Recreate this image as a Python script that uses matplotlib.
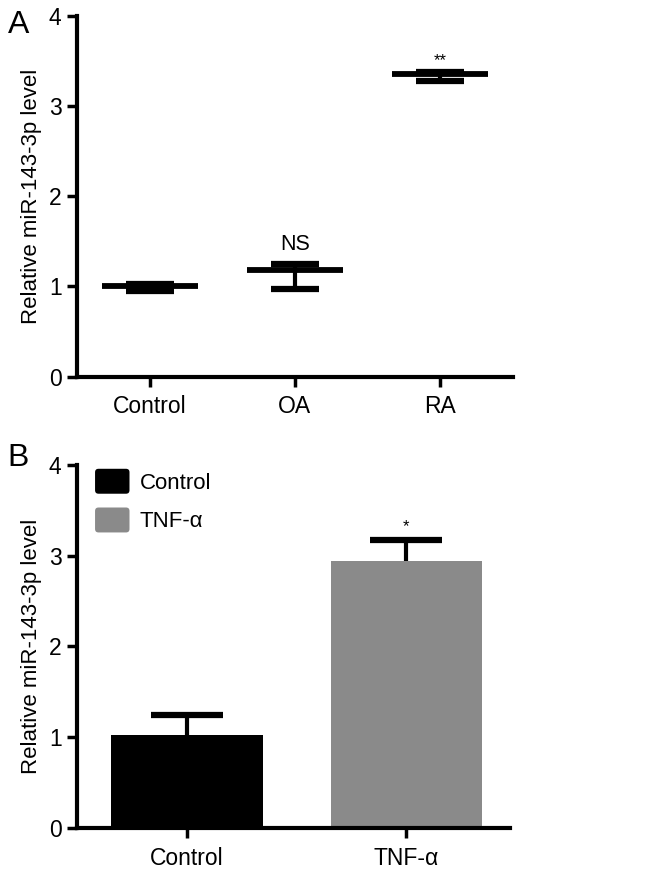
import matplotlib
matplotlib.use('Agg')
import numpy as np
import matplotlib.pyplot as plt
from matplotlib.patches import FancyBboxPatch
from matplotlib.legend_handler import HandlerPatch

plt.rcParams['font.family'] = ['Liberation Sans', 'DejaVu Sans']

# panel A: mean with min/max error
groups_a = ['Control', 'OA', 'RA']
mean_a = [1.00, 1.18, 3.35]
upper_a = [1.03, 1.25, 3.38]
lower_a = [0.95, 0.97, 3.28]
sig_a = ['', 'NS', '**']

# panel B: bar with upward error
groups_b = ['Control', 'TNF-α']
mean_b = [1.02, 2.94]
err_b = [0.22, 0.24]
colors_b = ['black', '#8a8a8a']
sig_b = ['', '*']


class RoundHandler(HandlerPatch):
    def create_artists(self, legend, orig_handle, xdescent, ydescent,
                       width, height, fontsize, trans):
        p = FancyBboxPatch((-xdescent + 1.5, -ydescent + 1.5), width - 3, height - 3,
                           boxstyle='round,pad=1.5,rounding_size=2.5',
                           facecolor=orig_handle.get_facecolor(), edgecolor='none',
                           transform=trans)
        return [p]


fig = plt.figure(figsize=(6.46, 8.76), dpi=100)
axA = fig.add_axes([0.119, 0.570, 0.675, 0.412])
axB = fig.add_axes([0.119, 0.055, 0.670, 0.414])

lw = 3.0
for ax in (axA, axB):
    ax.spines['top'].set_visible(False)
    ax.spines['right'].set_visible(False)
    ax.spines['left'].set_linewidth(lw)
    ax.spines['bottom'].set_linewidth(lw)
    ax.tick_params(axis='both', direction='out', length=7.5, width=2.5, labelsize=16.5)
    ax.tick_params(axis='x', pad=6)
    ax.set_ylim(0, 4)
    ax.set_yticks([0, 1, 2, 3, 4])
    ax.set_ylabel('Relative miR-143-3p level', fontsize=16, labelpad=5)

# A
xa = np.arange(len(groups_a))
axA.hlines(mean_a, xa - 0.33, xa + 0.33, colors='black', linewidth=4.2)
yerr = [np.array(mean_a) - np.array(lower_a), np.array(upper_a) - np.array(mean_a)]
axA.errorbar(xa, mean_a, yerr=yerr, fmt='none', ecolor='black', elinewidth=3,
             capsize=17.5, capthick=4.5)
for x, m, u, s in zip(xa, mean_a, upper_a, sig_a):
    if s == 'NS':
        axA.text(x, u + 0.1, s, ha='center', va='bottom', fontsize=15.5)
    elif s:
        axA.text(x, u + 0.04, s, ha='center', va='bottom', fontsize=12)
axA.set_xlim(-0.5, 2.5)
axA.set_xticks(xa)
axA.set_xticklabels(groups_a)

# B: symmetric error drawn under the bar so only the upper half shows
xb = np.arange(len(groups_b))
axB.errorbar(xb, mean_b, yerr=err_b, fmt='none', ecolor='black',
             elinewidth=3, capsize=26, capthick=4.5, zorder=1)
bars = axB.bar(xb, mean_b, width=0.69, color=colors_b, zorder=2)
for x, m, e, s in zip(xb, mean_b, err_b, sig_b):
    if s:
        axB.text(x, m + e + 0.06, s, ha='center', va='bottom', fontsize=12)
axB.set_xlim(-0.5, 1.47)
axB.set_xticks(xb)
axB.set_xticklabels(groups_b)
axB.legend(bars, groups_b, loc='upper left', bbox_to_anchor=(0.042, 0.99),
           frameon=False, fontsize=16, handlelength=1.55, handleheight=1.35,
           labelspacing=0.62, handletextpad=0.45, borderpad=0, borderaxespad=0,
           handler_map={bars.patches[0].__class__: RoundHandler()})

fig.text(0.012, 0.962, 'A', fontsize=23)
fig.text(0.012, 0.468, 'B', fontsize=23)

fig.savefig('out.png', dpi=100)
